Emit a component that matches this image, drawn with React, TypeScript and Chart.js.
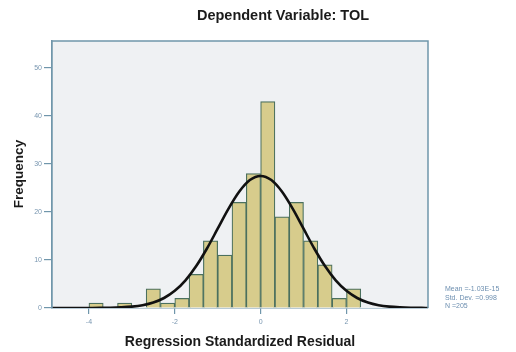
import React, { useEffect, useRef } from "react";
import { Chart, registerables } from "chart.js";

Chart.register(...registerables);

// Histogram bins (centers, bin width 1/3) and frequencies
const binCenters = [
  -3.833, -3.5, -3.167, -2.833, -2.5, -2.167, -1.833, -1.5, -1.167, -0.833,
  -0.5, -0.167, 0.167, 0.5, 0.833, 1.167, 1.5, 1.833, 2.167,
];
const frequencies = [1, 0, 1, 0, 4, 1, 2, 7, 14, 11, 22, 28, 43, 19, 22, 14, 9, 2, 4];

// Normal curve
const curveX = [
  -4.86, -4.5, -4.25, -4, -3.75, -3.5, -3.25, -3, -2.75, -2.5, -2.25, -2, -1.75, -1.5,
  -1.25, -1, -0.75, -0.5, -0.25, 0, 0.25, 0.5, 0.75, 1, 1.25, 1.5, 1.75, 2, 2.25, 2.5,
  2.75, 3, 3.25, 3.5, 3.75, 3.9,
];
const curveY = [
  0, 0, 0, 0.01, 0.02, 0.05, 0.13, 0.28, 0.58, 1.13, 2.08, 3.57, 5.76, 8.73, 12.39,
  16.51, 20.64, 24.2, 26.64, 27.5, 26.64, 24.2, 20.64, 16.51, 12.39, 8.73, 5.76, 3.57,
  2.08, 1.13, 0.58, 0.28, 0.13, 0.05, 0.02, 0.01,
];

const xTicks = [-4, -2, 0, 2];
const yTicks = [0, 10, 20, 30, 40, 50];
const xRange = [-4.86, 3.9];
const yRange = [0, 55.6];

const titleText = "Dependent Variable: TOL";
const xTitle = "Regression Standardized Residual";
const yTitle = "Frequency";
const statsLines = ["Mean =-1.03E-15", "Std. Dev. =0.998", "N =205"];

const FRAME = "#7096ab";
const TICKTXT = "#7896b0";
const FONT = "'Liberation Sans', Arial, sans-serif";

export default function App() {
  const ref = useRef<HTMLCanvasElement | null>(null);

  useEffect(() => {
    if (!ref.current) return;
    const decor = {
      id: "decor",
      beforeDatasetsDraw(chart: any) {
        const { ctx, chartArea: a } = chart;
        ctx.save();
        ctx.fillStyle = "#eff1f3";
        ctx.fillRect(a.left, a.top, a.right - a.left, a.bottom - a.top);
        ctx.restore();
      },
      afterDatasetsDraw(chart: any) {
        const { ctx, chartArea: a } = chart;
        ctx.save();
        ctx.strokeStyle = FRAME;
        ctx.lineWidth = 1.5;
        ctx.beginPath();
        ctx.moveTo(a.left, a.bottom);
        ctx.lineTo(a.left, a.top);
        ctx.lineTo(a.right, a.top);
        ctx.lineTo(a.right, a.bottom);
        ctx.stroke();
        ctx.restore();
      },
      afterDraw(chart: any) {
        const { ctx, chartArea: a } = chart;
        ctx.save();
        ctx.fillStyle = "#1b1b1b";
        ctx.textAlign = "center";
        ctx.textBaseline = "middle";
        ctx.font = `bold 14.5px ${FONT}`;
        ctx.fillText(titleText, 283, 16);
        ctx.font = `bold 14px ${FONT}`;
        ctx.fillText(xTitle, (a.left + a.right) / 2, 342);
        ctx.save();
        ctx.translate(19, 174);
        ctx.rotate(-Math.PI / 2);
        ctx.font = `bold 13.5px ${FONT}`;
        ctx.fillText(yTitle, 0, 0);
        ctx.restore();
        ctx.fillStyle = "#6d8fb0";
        ctx.textAlign = "left";
        ctx.font = `7px ${FONT}`;
        const ys = [289, 298, 306];
        statsLines.forEach((t, i) => ctx.fillText(t, a.right + 17, ys[i]));
        ctx.restore();
      },
    };

    const chart = new Chart(ref.current, {
      type: "bar",
      data: {
        datasets: [
          {
            type: "line",
            data: curveX.map((x, i) => ({ x, y: curveY[i] })),
            borderColor: "#111111",
            borderWidth: 2.6,
            pointRadius: 0,
            cubicInterpolationMode: "monotone",
            fill: false,
            order: 0,
          } as any,
          {
            type: "bar",
            data: binCenters.map((x, i) => ({ x, y: frequencies[i] })),
            backgroundColor: "#d7cc8c",
            borderColor: "#4b705e",
            borderWidth: 1.2,
            barPercentage: 1,
            categoryPercentage: 1,
            order: 1,
          } as any,
        ],
      },
      options: {
        responsive: false,
        animation: false,
        layout: { padding: { left: 0, right: 88, top: 41, bottom: 0 } },
        plugins: { legend: { display: false }, tooltip: { enabled: false }, title: { display: false } },
        scales: {
          x: {
            type: "linear",
            min: xRange[0],
            max: xRange[1],
            offset: false,
            afterBuildTicks: (axis: any) => {
              axis.ticks = xTicks.map((v) => ({ value: v }));
            },
            afterFit: (s: any) => {
              s.height = 44;
            },
            grid: { offset: false, drawOnChartArea: false, tickLength: 6, color: FRAME, lineWidth: 1.2 },
            border: { display: true, color: FRAME, width: 1.5 },
            ticks: { color: TICKTXT, font: { size: 7, family: FONT }, padding: 4, maxRotation: 0 },
          },
          y: {
            min: yRange[0],
            max: yRange[1],
            afterBuildTicks: (axis: any) => {
              axis.ticks = yTicks.map((v) => ({ value: v }));
            },
            afterFit: (s: any) => {
              s.width = 52;
            },
            grid: { drawOnChartArea: false, tickLength: 8, color: FRAME, lineWidth: 1.2 },
            border: { display: true, color: FRAME, width: 1.5 },
            ticks: { color: TICKTXT, font: { size: 7, family: FONT }, padding: 2 },
          },
        },
      },
      plugins: [decor],
    } as any);
    return () => chart.destroy();
  }, []);

  return (
    <div style={{ position: "fixed", left: 0, top: 0, width: 516, height: 352, background: "#fff" }}>
      <canvas ref={ref} width={516} height={352} style={{ width: 516, height: 352 }} />
    </div>
  );
}
